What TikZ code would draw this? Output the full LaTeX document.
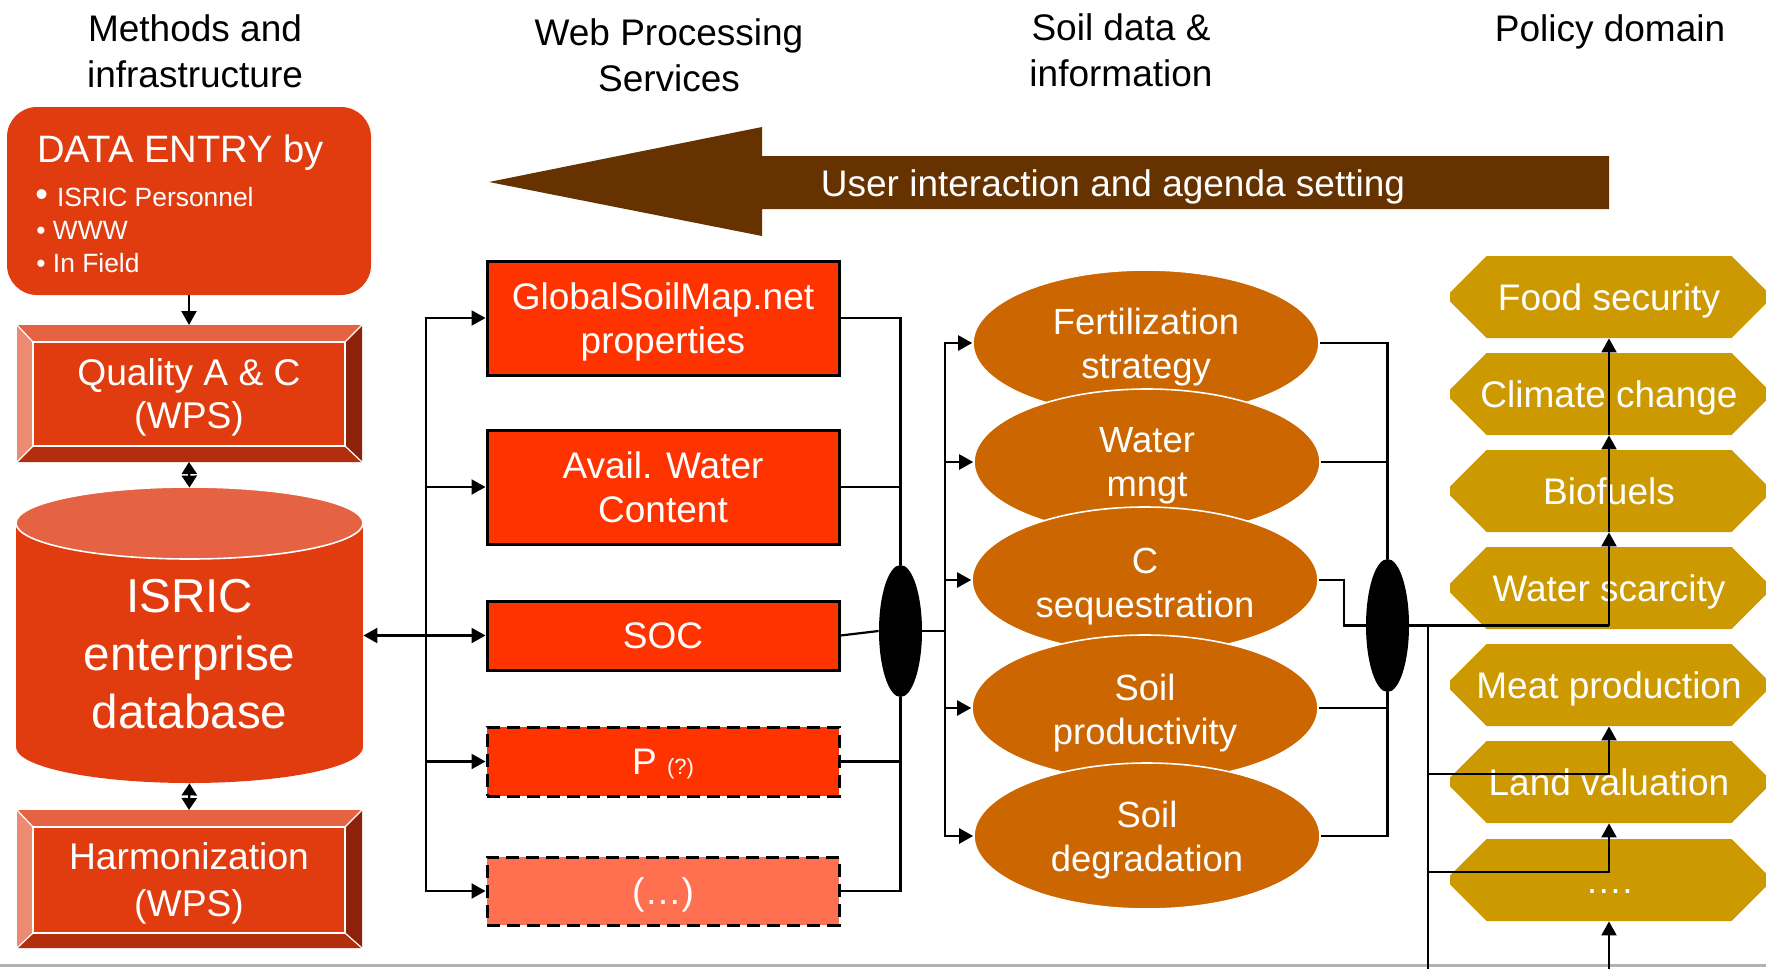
\documentclass[tikz,border=0pt]{standalone}
\usepackage{fontspec}
\setmainfont{Liberation Sans}
\usetikzlibrary{arrows.meta,shapes.geometric,shapes.misc}

\definecolor{mainred}{RGB}{224,60,16}
\definecolor{bevtop}{RGB}{229,98,66}
\definecolor{bevleft}{RGB}{236,139,114}
\definecolor{bevright}{RGB}{139,34,9}
\definecolor{bevbot}{RGB}{179,46,12}
\definecolor{cyltop}{RGB}{229,98,66}
\definecolor{wpsred}{RGB}{255,51,0}
\definecolor{wpslight}{RGB}{255,112,80}
\definecolor{soilc}{RGB}{204,102,0}
\definecolor{polc}{RGB}{204,153,0}
\definecolor{brownarrow}{RGB}{102,51,0}

\begin{document}
\begin{tikzpicture}[x=0.5pt,y=-0.5pt,
  arr/.style={line width=1.1pt,-{Triangle[length=7pt,width=7.5pt]}},
  dbl/.style={line width=1.1pt,{Triangle[length=6pt,width=7.5pt]}-{Triangle[length=6pt,width=7.5pt]}},
  ln/.style={line width=1.1pt},
  hdr/.style={font=\fontsize{18.5}{23}\selectfont, align=center, inner sep=0pt},
  face/.style={rectangle, fill=mainred, draw=white, line width=0.6pt, minimum width=156pt, minimum height=52pt, inner sep=0pt},
  facetxt/.style={text=white, align=center, inner sep=0pt, text depth=0pt},
  wps/.style={rectangle, draw=black, line width=1.5pt, fill=wpsred, text=white, minimum width=176pt, minimum height=57pt, inner sep=0pt, align=center, text depth=0pt, font=\fontsize{18.5}{22}\selectfont},
  wpsdash/.style={wps, dash pattern=on 6.5pt off 3.5pt},
  soil/.style={ellipse, fill=soilc, draw=white, line width=0.8pt, minimum width=173pt, minimum height=73pt, inner sep=0pt},
  soiltxt/.style={text=white, align=center, inner sep=0pt, text depth=0pt, font=\fontsize{18.2}{22}\selectfont},
  pol/.style={chamfered rectangle, chamfered rectangle xsep=11.5pt, chamfered rectangle ysep=11.5pt, fill=polc, text=white, minimum width=159pt, minimum height=41pt, inner sep=0pt, text height=13.5pt, text depth=0pt, font=\fontsize{18.5}{20}\selectfont},
  junc/.style={ellipse, fill=black, minimum width=21.5pt, minimum height=66pt, inner sep=0pt},
  wtxt/.style={text=white, inner sep=0pt, anchor=base west}
]
\useasboundingbox (0,0) rectangle (1766,969);
\fill[white] (0,0) rectangle (1766,969);

% bottom gray rule
\draw[gray!60, line width=1.5pt] (0,965) -- (1766,965);

% headers
\node[hdr] (h1) at (195,51) {Methods and\\infrastructure};
\node[hdr] (h2) at (669,55) {Web Processing\\Services};
\node[hdr] (h3) at (1121,50) {Soil data \&\\information};
\node[hdr] (h4) at (1610,32) {Policy domain};

% big arrow
\fill[brownarrow] (489,182) -- (762,127) -- (762,156) -- (1609,156) -- (1609,209) -- (762,209) -- (762,236) -- cycle;
\node[text=white, inner sep=0pt, text depth=0pt, font=\fontsize{18.5}{20}\selectfont] (ui) at (1113,183) {User interaction and agenda setting};

% data entry
\node[rectangle, rounded corners=15pt, fill=mainred, minimum width=182pt, minimum height=94pt] (entry) at (189,201) {};
\node[wtxt, font=\fontsize{19.1}{20}\selectfont] (et) at (37,162) {DATA ENTRY by};
\node[wtxt, font=\fontsize{13.2}{14}\selectfont] (b1) at (35,206) {{\fontsize{18}{18}\selectfont •}\hspace{4.5pt}ISRIC Personnel};
\node[wtxt, font=\fontsize{13.2}{14}\selectfont] (b2) at (36,239) {• WWW};
\node[wtxt, font=\fontsize{13.2}{14}\selectfont] (b3) at (36,272) {• In Field};

% quality bevel box
\fill[bevtop] (17,325) -- (362,325) -- (345,342) -- (33,342) -- cycle;
\fill[bevleft] (17,325) -- (33,342) -- (33,446) -- (17,462) -- cycle;
\fill[bevright] (362,325) -- (362,462) -- (345,446) -- (345,342) -- cycle;
\fill[bevbot] (17,462) -- (33,446) -- (345,446) -- (362,462) -- cycle;
\draw[white, line width=0.6pt] (17,325) -- (33,342) (362,325) -- (345,342) (17,462) -- (33,446) (362,462) -- (345,446);
\node[face] (qual) at (189,394) {};
\node[facetxt, font=\fontsize{18.6}{21.5}\selectfont] (qualt) at (189,394) {Quality A \& C\\(WPS)};
\coordinate (qtop) at (189,325);
\coordinate (qbot) at (189,462);

% harmonization bevel box
\fill[bevtop] (17,810) -- (362,810) -- (345,827) -- (33,827) -- cycle;
\fill[bevleft] (17,810) -- (33,827) -- (33,933) -- (17,948) -- cycle;
\fill[bevright] (362,810) -- (362,948) -- (345,933) -- (345,827) -- cycle;
\fill[bevbot] (17,948) -- (33,933) -- (345,933) -- (362,948) -- cycle;
\draw[white, line width=0.6pt] (17,810) -- (33,827) (362,810) -- (345,827) (17,948) -- (33,933) (362,948) -- (345,933);
\node[face, minimum height=53pt] (harm) at (189,880) {};
\node[facetxt, font=\fontsize{18.6}{23.5}\selectfont] (harmt) at (189,880) {Harmonization\\(WPS)};
\coordinate (htop) at (189,810);

% cylinder database
\fill[mainred] (16,523) rectangle (363,747);
\fill[mainred] (189.5,747) ellipse [x radius=86.75pt, y radius=18pt];
\filldraw[fill=cyltop, draw=white, line width=0.8pt] (189.5,523) ellipse [x radius=86.75pt, y radius=18pt];
\node[minimum width=173.5pt, minimum height=147.5pt, inner sep=0pt] (db) at (189.5,635.5) {};
\node[text=white, align=center, inner sep=0pt, text depth=0pt, font=\fontsize{23.8}{29}\selectfont] (dbt) at (189.5,654) {ISRIC\\enterprise\\database};

\draw[arr] (entry.south) -- (qtop);
\draw[dbl] (qbot) -- (db.north);
\draw[dbl] (db.south) -- (htop);

% WPS boxes
\node[wps] (gsm) at (663,318) {GlobalSoilMap.net\\properties};
\node[wps] (awc) at (663,487) {Avail. Water\\Content};
\node[wps, minimum height=34.5pt] (soc) at (663,635.5) {SOC};
\node[wpsdash, minimum height=34.5pt] (pn) at (663,761.5) {P {\fontsize{11}{11}\selectfont (?)}};
\node[wpsdash, fill=wpslight, minimum height=34pt] (dots) at (663,891) {(…)};

% left bus
\coordinate (jl) at (426,635.5);
\draw[arr] (jl) -- (db.east);
\draw[arr] (jl) |- (gsm.west);
\draw[arr] (jl) |- (awc.west);
\draw[arr] (jl) -- (soc.west);
\draw[arr] (jl) |- (pn.west);
\draw[arr] (jl) |- (dots.west);

% first junction
\node[junc] (e1) at (900.5,631) {};
\draw[ln] (gsm.east) -| (e1.north);
\draw[ln] (awc.east) -| (e1.north);
\draw[ln] (soc.east) -- (e1.west);
\draw[ln] (pn.east) -| (e1.south);
\draw[ln] (dots.east) -| (e1.south);
\coordinate (jm) at (945,631);
\draw[ln] (e1.east) -- (jm);

% soil ellipses
\node[soil] (fert) at (1146,343) {};
\node[soiltxt] (fertt) at (1146,343) {Fertilization\\strategy};
\node[soil] (water) at (1147,462) {};
\node[soiltxt] (watert) at (1147,462) {Water\\mngt};
\node[soil] (cseq) at (1145,580) {};
\node[soiltxt] (cseqt) at (1145,583) {C\\sequestration};
\node[soil] (sprod) at (1145,708) {};
\node[soiltxt] (sprodt) at (1145,709) {Soil\\productivity};
\node[soil] (sdeg) at (1147,836) {};
\node[soiltxt] (sdegt) at (1147,836) {Soil\\degradation};

\draw[arr] (jm) |- (fert.west);
\draw[arr] (jm) |- (water.west);
\draw[arr] (jm) |- (cseq.west);
\draw[arr] (jm) |- (sprod.west);
\draw[arr] (jm) |- (sdeg.west);

% second junction
\node[junc, minimum height=66.5pt] (e2) at (1387.5,625.5) {};
\draw[ln] (fert.east) -| (e2.north);
\draw[ln] (water.east) -| (e2.north);
\draw[ln] (cseq.east) -- ++(25,0) |- (e2.west);
\draw[ln] (sprod.east) -| (e2.south);
\draw[ln] (sdeg.east) -| (e2.south);

% policy domain
\node[pol] (food) at (1609,297) {Food security};
\node[pol] (clim) at (1609,394) {Climate change};
\node[pol] (bio) at (1609,491) {Biofuels};
\node[pol] (wsc) at (1609,588) {Water scarcity};
\node[pol] (meat) at (1609,685) {Meat production};
\node[pol] (land) at (1609,782) {Land valuation};
\node[pol] (more) at (1609,880) {….};

\coordinate (jr) at (1609,625.5);
\coordinate (jb) at (1428,625.5);
\coordinate (k1) at (1609,774);
\coordinate (k2) at (1609,872);
\coordinate (kb) at (1428,969);
\coordinate (kd) at (1609,969);
\draw[ln] (e2.east) -- (jr);
\draw[arr] (jr) -- (bio.south);
\draw[arr] (bio.south) -- (clim.south);
\draw[arr] (clim.south) -- (food.south);
\draw[ln] (jb) -- (kb);
\draw[arr] (jb) |- (k1) -- (meat.south);
\draw[arr] (jb) |- (k2) -- (land.south);
\draw[arr] (kd) -- (more.south);
\end{tikzpicture}
\end{document}
